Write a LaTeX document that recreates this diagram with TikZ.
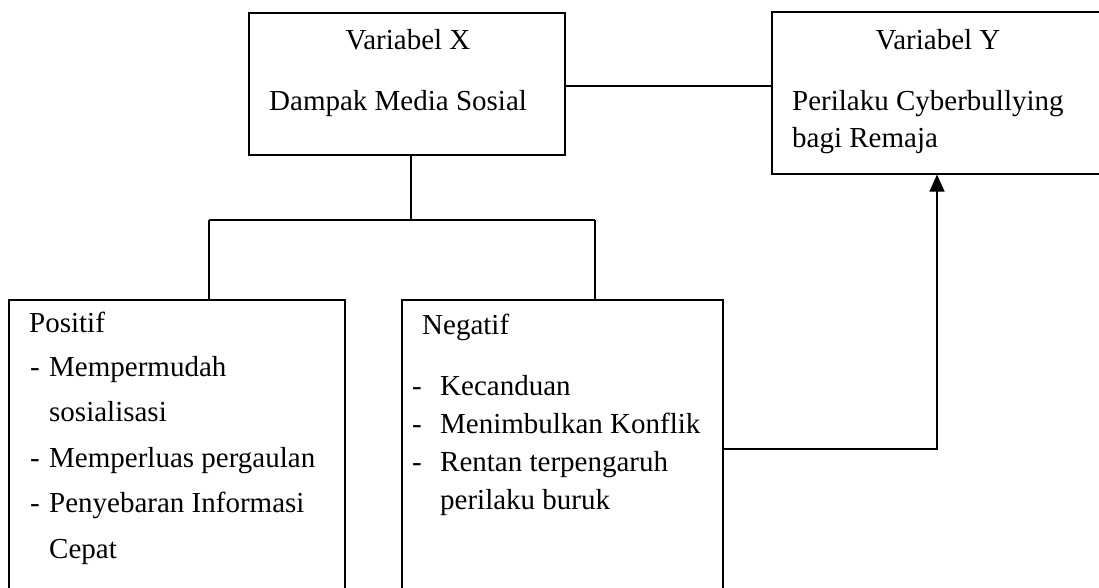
\documentclass[tikz,border=0pt]{standalone}
\usepackage{fontspec}
\setmainfont{Liberation Serif}
\usetikzlibrary{calc}
\usetikzlibrary{arrows.meta}

\tikzset{
    box/.style={draw, line width=1.1pt, inner sep=0pt},
    txt/.style={font=\fontsize{29}{35}\selectfont, inner sep=0pt},
    conn/.style={line width=1.1pt}
}

\begin{document}
\begin{tikzpicture}[x=1pt,y=-1pt]
    % Fix the page size and cut off what runs over the edge
    \useasboundingbox (0,0) rectangle (1099,587);
    \clip (0,0) rectangle (1099,587);

    % Indents of the list items
    \def\dpos{\makebox[19pt][l]{-}}
    \def\dneg{\makebox[28pt][l]{-}}

    % Draw the boxes
    \node[box, minimum width=316pt, minimum height=142pt] (varx) at (407,84) {};
    \node[box, minimum width=340pt, minimum height=162pt] (vary) at (942,93) {};
    \node[box, minimum width=336pt, minimum height=310pt] (pos) at (177,455) {};
    \node[box, minimum width=321pt, minimum height=310pt] (neg) at (562.5,455) {};

    % Box texts
    \node[txt, anchor=base] (vx) at (408,49) {Variabel X};
    \node[txt, anchor=base west] (dms) at (269,110) {Dampak Media Sosial};
    \node[txt, anchor=base] (vy) at (938,49) {Variabel Y};
    \node[txt, anchor=base west] (pcb) at (792,110) {Perilaku Cyberbullying};
    \node[txt, anchor=base west] (bgr) at (792,147) {bagi Remaja};

    \node[txt, anchor=base west] (post) at (29,332) {Positif};
    \node[txt, anchor=base west] (pos1) at (30,376) {\dpos Mempermudah};
    \node[txt, anchor=base west] (pos2) at (30,421) {\hspace{19pt}sosialisasi};
    \node[txt, anchor=base west] (pos3) at (30,467) {\dpos Memperluas pergaulan};
    \node[txt, anchor=base west] (pos4) at (30,512) {\dpos Penyebaran Informasi};
    \node[txt, anchor=base west] (pos5) at (30,558) {\hspace{19pt}Cepat};

    \node[txt, anchor=base west] (negt) at (422,334) {Negatif};
    \node[txt, anchor=base west] (neg1) at (412,395) {\dneg Kecanduan};
    \node[txt, anchor=base west] (neg2) at (412,433) {\dneg Menimbulkan Konflik};
    \node[txt, anchor=base west] (neg3) at (412,471) {\dneg Rentan terpengaruh};
    \node[txt, anchor=base west] (neg4) at (412,509) {\hspace{28pt}perilaku buruk};

    % Connector points
    \coordinate (lnk) at (668,86);
    \coordinate (split) at (411,220);
    \coordinate (jl) at (209,220);
    \coordinate (jr) at (595,220);
    \coordinate (turn) at (937,449);

    % Draw the connectors
    \draw[conn] (varx.east |- lnk) -- (vary.west |- lnk);
    \draw[conn] (split |- varx.south) -- (split);
    \draw[conn] (jl) -- (jr);
    \draw[conn] (jl) -- (jl |- pos.north);
    \draw[conn] (jr) -- (jr |- neg.north);
    \draw[conn, -{Triangle[length=17pt,width=15pt]}] (neg.east |- turn) -- (turn) -- (turn |- vary.south);
\end{tikzpicture}
\end{document}
